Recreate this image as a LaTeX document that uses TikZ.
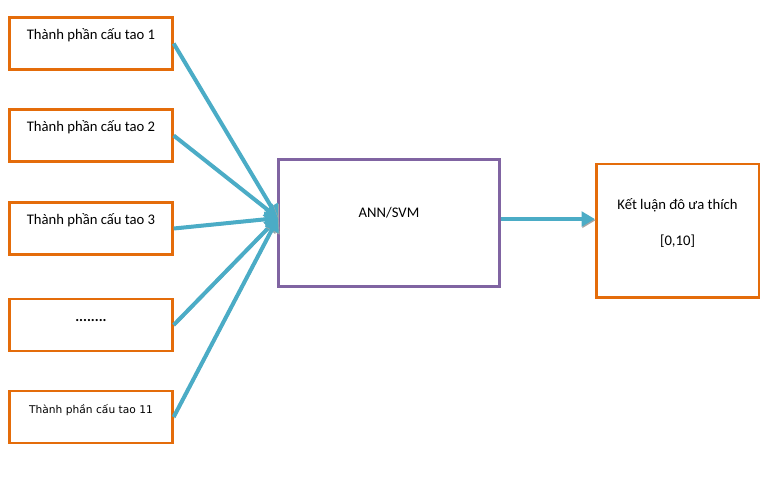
\documentclass[tikz,border=0pt]{standalone}
\usepackage{fontspec}
\setmainfont{Carlito}
\newfontfamily\smallpartfont{DejaVu Sans}
\usetikzlibrary{arrows.meta}
\definecolor{boxorange}{RGB}{228,108,10}
\definecolor{netpurple}{RGB}{128,100,162}
\definecolor{feedteal}{RGB}{75,172,198}
\tikzstyle{part}=[draw=boxorange,line width=2pt,minimum width=122pt,minimum height=39pt,inner sep=0pt,text height=8pt,text depth=14pt,font=\fontsize{11}{13}\selectfont]
\tikzstyle{net}=[draw=netpurple,line width=1.8pt,minimum width=166pt,minimum height=95pt,inner sep=0pt,text height=8pt,text depth=17pt,font=\fontsize{11}{13}\selectfont]
\tikzstyle{verdict}=[draw=boxorange,line width=2pt,minimum width=122pt,minimum height=100pt,inner sep=0pt,align=center,text height=30pt,text depth=8pt,font=\fontsize{11}{13}\selectfont]
\tikzstyle{feed}=[draw=feedteal,line width=3pt,-{Triangle[length=10pt,width=11pt]},
  preaction={draw=black!35,transform canvas={shift={(0.7pt,-0.9pt)}}}]
\newcommand{\drawpart}[3]{
  \node[part] (part#1) at (91,#2) {#3};
}

\begin{document}
\begin{tikzpicture}[x=0.75pt,y=-0.75pt]
	\useasboundingbox (0,0) rectangle (769,476);
	\drawpart{1}{43.5}{Thành phần cấu tao 1}
	\drawpart{2}{135.5}{Thành phần cấu tao 2}
	\drawpart{3}{228.5}{Thành phần cấu tao 3}
	\drawpart{4}{325}{\textbf{........}}
	\drawpart{5}{417}{\smallpartfont\fontsize{8}{10}\selectfont Thành phần cấu tao 11}
	\node[net] (net) at (389,223) {ANN/SVM};
	\node[verdict] (verdict) at (677.5,230.5) {Kết luận đô ưa thích\\[14pt]{[0,10]}};
	\coordinate (hub) at (278,218);
	\coordinate (tap) at (540,219);
	\foreach \i in {1,...,5} {
	  \draw[feed] (part\i.east) -- (hub);
	}
	\draw[feed] (net.east |- tap) -- (verdict.west |- tap);
\end{tikzpicture}
\end{document}
